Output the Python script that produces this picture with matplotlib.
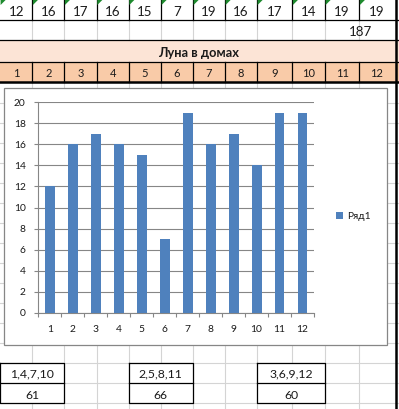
import matplotlib
matplotlib.use("Agg")
import matplotlib.pyplot as plt
from matplotlib.patches import Rectangle, Polygon

plt.rcParams['font.family'] = ['Lato', 'DejaVu Sans']

# ---- data ----
houses = [1, 2, 3, 4, 5, 6, 7, 8, 9, 10, 11, 12]
counts = [12, 16, 17, 16, 15, 7, 19, 16, 17, 14, 19, 19]
total_label = "187"
title_text = "Луна в домах"
series_name = "Ряд1"
group_labels = ["1,4,7,10", "2,5,8,11", "3,6,9,12"]
group_sums = [61, 66, 60]
yticks = [0, 2, 4, 6, 8, 10, 12, 14, 16, 18, 20]

W, H = 399, 409
fig = plt.figure(figsize=(W / 100, H / 100), dpi=100)
bg = fig.add_axes([0, 0, 1, 1])
bg.set_xlim(0, W)
bg.set_ylim(H, 0)
bg.axis('off')

cols = [0, 32.3, 64.3, 96.7, 128.7, 161, 193, 225, 257, 292.3, 325, 359.3, 393.5]
grid_c = '#D4D4D4'
black = '#000000'
txt_c = '#1A1A1A'

# row fills
bg.add_patch(Rectangle((0, 40), W, 22, facecolor='#FCE4D6', edgecolor='none', zorder=0))
bg.add_patch(Rectangle((0, 62), W, 20, facecolor='#F9CBA8', edgecolor='none', zorder=0))

# sheet gridlines (lower area)
y = 103
while y < H:
    bg.plot([0, W], [y, y], color=grid_c, lw=0.8, zorder=0.5)
    y += 20
for x in cols[1:-1]:
    bg.plot([x, x], [82, H], color=grid_c, lw=0.8, zorder=0.5)
for x in cols[1:-1]:
    bg.plot([x, x], [20, 40], color=grid_c, lw=0.8, zorder=0.5)

# black borders top rows
for yy in [20, 40, 62]:
    bg.plot([0, W], [yy, yy], color=black, lw=0.9, zorder=1)
bg.plot([0, W], [82, 82], color=black, lw=1.8, zorder=1)
for x in cols[1:-1]:
    bg.plot([x, x], [0, 20], color=black, lw=0.9, zorder=1)
    bg.plot([x, x], [62, 82], color=black, lw=0.9, zorder=1)
bg.plot([395.5, 395.5], [0, H], color=black, lw=1.8, zorder=1)

# green triangles
for x in cols[:-1]:
    bg.add_patch(Polygon([[x + 0.6, 0], [x + 5.6, 0], [x + 0.6, 5]], closed=True,
                         facecolor='#1E8A2E', edgecolor='none', zorder=2))

# row texts
for i, v in enumerate(counts):
    cx = (cols[i] + cols[i + 1]) / 2
    bg.text(cx, 16, str(v), ha='center', va='baseline', fontsize=9.6, color=txt_c, zorder=3)
for i, h in enumerate(houses):
    cx = (cols[i] + cols[i + 1]) / 2
    bg.text(cx, 77.3, str(h), ha='center', va='baseline', fontsize=8.0, color=txt_c, zorder=3)
bg.text(361, 36, total_label, ha='center', va='baseline', fontsize=9.6, color=txt_c, zorder=3)
bg.text(199, 57.3, title_text, ha='center', va='baseline', fontsize=9.3,
        fontweight='bold', color=txt_c, zorder=3)

# bottom tables
tables = [(0, 64.3), (128.7, 193), (257, 325)]
for (x0, x1), lab, s in zip(tables, group_labels, group_sums):
    bg.add_patch(Rectangle((x0, 363), x1 - x0, 40.3, facecolor='white',
                           edgecolor='none', zorder=1.2))
    bg.plot([x0, x1, x1, x0, x0], [363, 363, 403.3, 403.3, 363], color=black, lw=0.9, zorder=1.5)
    bg.plot([x0, x1], [383.3, 383.3], color=black, lw=0.9, zorder=1.5)
    cx = (x0 + x1) / 2
    bg.text(cx, 377.3, lab, ha='center', va='baseline', fontsize=8.8, color=txt_c, zorder=3)
    bg.text(cx, 399, str(s), ha='center', va='baseline', fontsize=8.8, color=txt_c, zorder=3)

# chart area box
bg.add_patch(Rectangle((4, 88), 383, 257, facecolor='white', edgecolor='#868686',
                       lw=0.9, zorder=4))

# plot area
px0, px1 = 38.3, 314
py0, py1 = 102.3, 312.7
ax = fig.add_axes([px0 / W, 1 - py1 / H, (px1 - px0) / W, (py1 - py0) / H], zorder=5)
ax.patch.set_alpha(0)
bars = ax.bar(houses, counts, width=0.43, color='#4F81BD', zorder=3, label=series_name)
ax.set_xlim(0.5, 12.5)
ax.set_ylim(0, 20)
ax.set_yticks(yticks)
ax.set_yticklabels([str(t) for t in yticks])
ax.set_xticks(houses)
ax.set_xticklabels([str(h) for h in houses])
ax.set_xticks([h + 0.5 for h in [0] + houses], minor=True)
ax.yaxis.grid(True, color='#868686', lw=0.8, zorder=1)
ax.set_axisbelow(True)
for s in ['top', 'right']:
    ax.spines[s].set_visible(False)
for s in ['left', 'bottom']:
    ax.spines[s].set_color('#868686')
    ax.spines[s].set_linewidth(0.8)
ax.tick_params(axis='x', which='major', length=0, pad=9, labelsize=7.4, labelcolor=txt_c)
ax.tick_params(axis='x', which='minor', length=3, width=0.8, color='#868686', direction='out')
ax.tick_params(axis='y', which='major', length=3, width=0.8, color='#868686',
               direction='out', pad=6, labelsize=7.4, labelcolor=txt_c)

fig.legend(handles=[bars], labels=[series_name], loc='center left',
           bbox_to_anchor=(335.5 / W, 1 - 216.7 / H), frameon=False,
           handlelength=0.7, handleheight=0.7, handletextpad=0.4,
           borderpad=0, borderaxespad=0, fontsize=7.4, labelcolor=txt_c)

fig.savefig('out.png', dpi=100)
